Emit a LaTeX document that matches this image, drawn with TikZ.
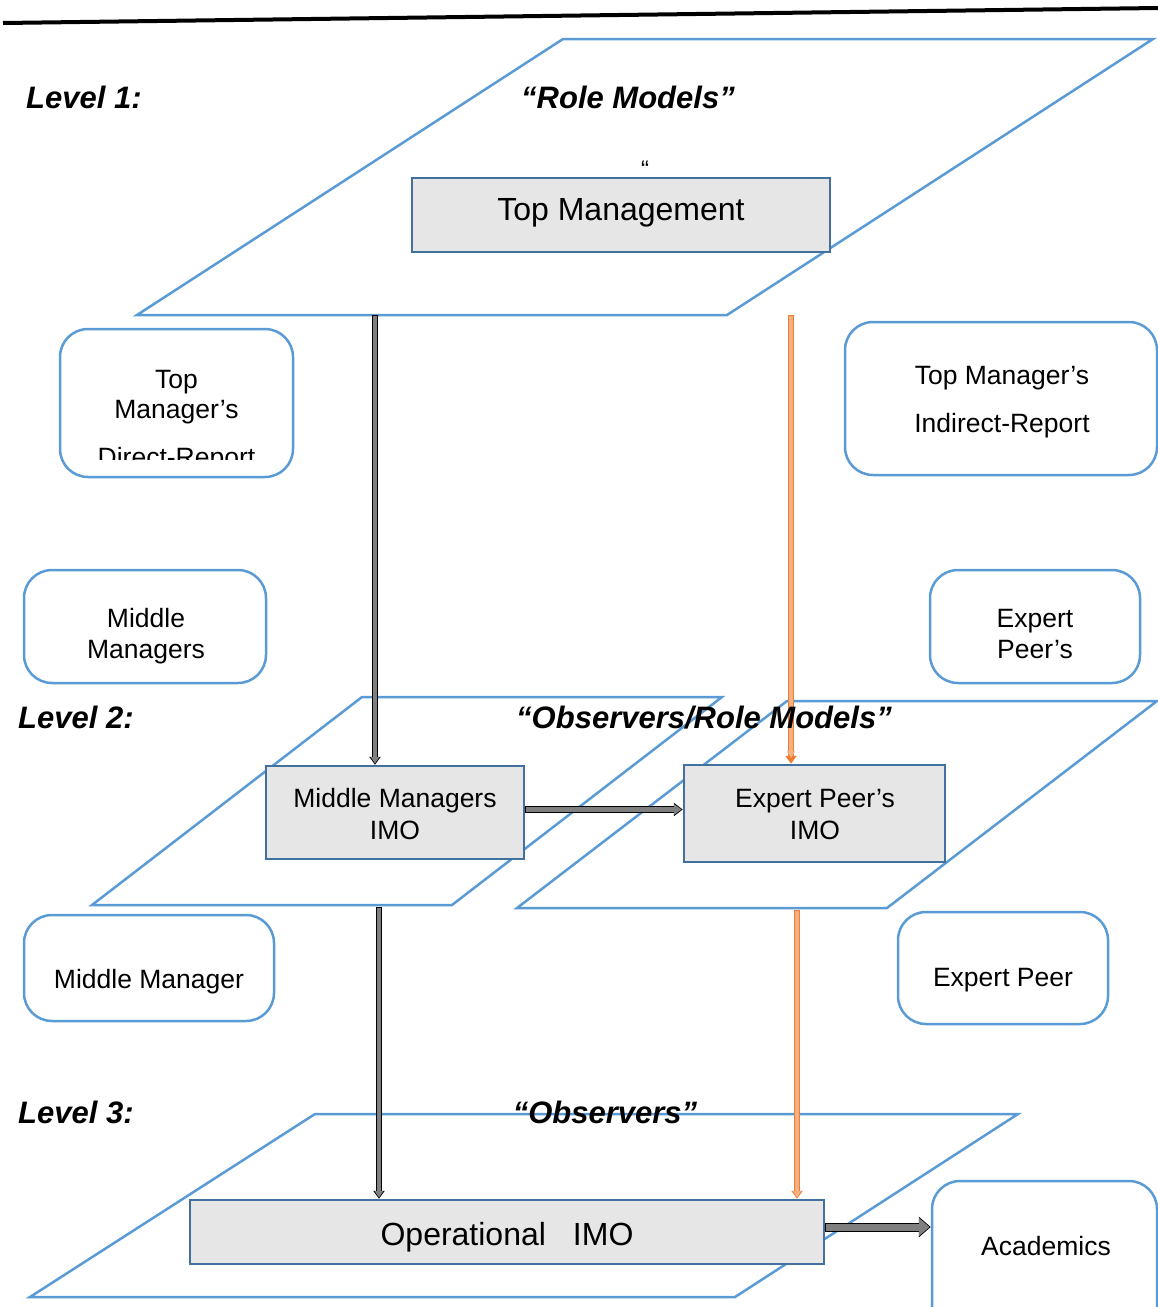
\documentclass[tikz,border=0pt]{standalone}
\usepackage{fontspec}
\setmainfont{Liberation Sans}
\usetikzlibrary{arrows.meta,calc}

\definecolor{planeblue}{HTML}{5B9BD5}
\definecolor{boxedge}{HTML}{41719C}
\definecolor{boxfill}{HTML}{E6E6E6}
\definecolor{arrowgrey}{HTML}{7F7F7F}
\definecolor{orangefill}{HTML}{F4B183}
\definecolor{orangeedge}{HTML}{ED7D31}

\newcommand{\boxfont}{\fontsize{26.5}{31}\selectfont}
\newcommand{\bigfont}{\fontsize{32}{38}\selectfont}
\newcommand{\levelfont}{\fontsize{31}{37}\selectfont\bfseries\itshape}

\tikzset{
  plane/.style={draw=planeblue, line width=2.5pt, line join=miter},
  imobox/.style={draw=boxedge, fill=boxfill, line width=2.5pt, inner sep=0pt},
  roundbox/.style={draw=planeblue, fill=white, line width=2.5pt, rounded corners=28pt, inner sep=0pt},
  boxtext/.style={font=\boxfont, anchor=base, inner sep=0pt},
  leveltext/.style={font=\levelfont, anchor=base west, inner sep=0pt},
  titletext/.style={font=\levelfont, anchor=base, inner sep=0pt},
  % block arrow: coloured shaft with a thin outline, drawn as two strokes
  blockarrow/.style n args={6}{% fill, edge, shaft, outline, head length, head width
    draw=#1, line width=#3, line cap=butt,
    -{Triangle[length=#5-1.6pt, width=#6-3pt]}, shorten >=1.2pt, shorten <=1pt,
    preaction={draw=#2, line width=#4, shorten >=0pt, shorten <=0pt,
      -{Triangle[length=#5, width=#6]}}
  },
  greyarrow/.style={blockarrow={arrowgrey}{black}{4pt}{6pt}{8pt}{11pt}},
  orangearrow/.style={blockarrow={orangefill}{orangeedge}{4pt}{6pt}{8pt}{11pt}},
}

\begin{document}
\begin{tikzpicture}[x=1pt, y=-1pt]
  \useasboundingbox (0,0) rectangle (1158,1307);

  % heading rule
  \draw[line width=4pt] (3,23) -- (1158,8);

  % ---------- the three planes ----------
  \draw[plane] (137,315) -- (727,315) -- (1153,39) -- (563,39) -- cycle;
  \draw[plane] (92,905) -- (452,905) -- (722,697) -- (362,697) -- cycle;
  \draw[plane] (517,908) -- (887,908) -- (1157,701) -- (787,701) -- cycle;
  \draw[plane] (30,1297) -- (735,1297) -- (1018,1114) -- (315,1114) -- cycle;

  % points where the arrows leave the planes
  \coordinate (p1a) at (375,315);
  \coordinate (p1b) at (791,315);
  \coordinate (p2a) at (379,907);
  \coordinate (p2b) at (797,910);

  % ---------- level 1 ----------
  \node[leveltext] (lvl1) at (26,108) {Level 1:};
  \node[titletext] (t1) at (628,108) {“Role Models”};
  \node[font=\fontsize{24}{26}\selectfont, anchor=base, inner sep=0pt] (q1) at (645,177) {“};
  \node[imobox, minimum width=418pt, minimum height=74pt] (top) at (621,215) {};
  \node[font=\bigfont, anchor=base, inner sep=0pt] (topt) at (621,220) {Top Management};

  % side boxes of level 1
  \node[roundbox, minimum width=233pt, minimum height=148pt] (direct) at (176.5,403) {};
  \node[boxtext] (direct1) at (176.5,388.5) {Top};
  \node[boxtext] (direct2) at (176.5,418.5) {Manager’s};
  \begin{scope}
    \clip (60,430) rectangle (293,459);
    \node[boxtext] (direct3) at (176.5,466) {Direct-Report};
  \end{scope}

  \node[roundbox, minimum width=312pt, minimum height=153pt] (indirect) at (1001,398.5) {};
  \node[boxtext] (indirect1) at (1002,384.5) {Top Manager’s};
  \node[boxtext] (indirect2) at (1002,432.5) {Indirect-Report};

  \node[roundbox, minimum width=242pt, minimum height=113pt] (mgrs) at (145,626.5) {};
  \node[boxtext] (mgrs1) at (146,627.5) {Middle};
  \node[boxtext] (mgrs2) at (146,658.5) {Managers};

  \node[roundbox, minimum width=210pt, minimum height=113pt] (peers) at (1035,626.5) {};
  \node[boxtext] (peers1) at (1035,627.5) {Expert};
  \node[boxtext] (peers2) at (1035,658.5) {Peer’s};

  % ---------- level 2 ----------
  \node[leveltext] (lvl2) at (18,728) {Level 2:};

  \node[imobox, minimum width=258pt, minimum height=93pt] (mmimo) at (395,812.5) {};
  \node[boxtext] (mmimo1) at (395,807.5) {Middle Managers};
  \node[boxtext] (mmimo2) at (395,839.5) {IMO};

  \node[imobox, minimum width=261pt, minimum height=97pt] (epimo) at (814.5,813.5) {};
  \node[boxtext] (epimo1) at (815,807.5) {Expert Peer’s};
  \node[boxtext] (epimo2) at (815,839.5) {IMO};

  \node[roundbox, minimum width=250pt, minimum height=106pt] (mgr) at (149,968) {};
  \node[boxtext] (mgr1) at (149,988.5) {Middle Manager};

  \node[roundbox, minimum width=210pt, minimum height=112pt] (peer) at (1003,968) {};
  \node[boxtext] (peer1) at (1003,986.5) {Expert Peer};

  % ---------- level 3 ----------
  \node[leveltext] (lvl3) at (18,1123) {Level 3:};

  \node[imobox, minimum width=634pt, minimum height=64pt] (opimo) at (507,1232) {};
  \node[font=\bigfont, anchor=base, inner sep=0pt] (opimo1) at (507,1245.5) {Operational\hspace{27pt}IMO};

  \node[roundbox, minimum width=225pt, minimum height=170pt] (acad) at (1044.5,1266) {};
  \node[boxtext] (acad1) at (1046,1255.5) {Academics};

  % ---------- connectors ----------
  \draw[greyarrow] (p1a) -- (p1a |- mmimo.north);
  \draw[orangearrow, shorten >=6pt, preaction={shorten >=4.8pt}] (p1b) -- (p1b |- epimo.north);
  \draw[blockarrow={arrowgrey}{black}{5pt}{7pt}{9pt}{13pt}]
    ($(mmimo.east)+(0,-3)$) -- ($(mmimo.east -| epimo.west)+(0,-3)$);
  \draw[greyarrow] (p2a) -- (p2a |- opimo.north);
  \draw[orangearrow] (p2b) -- (p2b |- opimo.north);
  \draw[blockarrow={arrowgrey}{black}{7pt}{9pt}{12pt}{20pt}]
    ($(opimo.east)+(0,-5)$) -- ($(opimo.east -| acad.west)+(0,-5)$);

  % plane titles sit above the connectors
  \node[titletext] (t2) at (704,728) {“Observers/Role Models”};
  \node[titletext] (t3) at (605,1123) {“Observers”};
\end{tikzpicture}
\end{document}
